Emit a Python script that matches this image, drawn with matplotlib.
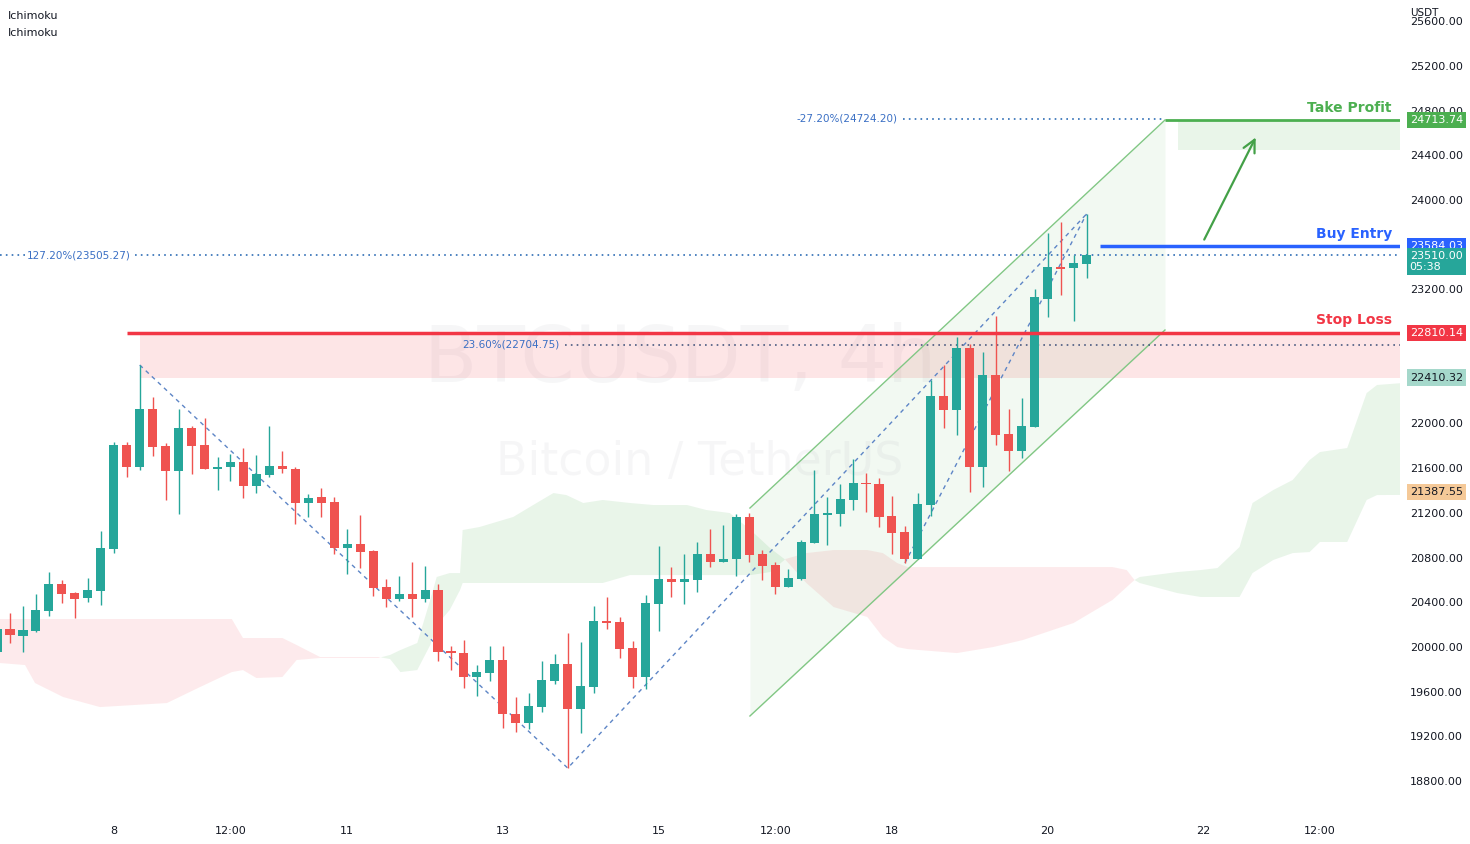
import numpy as np
import matplotlib.pyplot as plt

# ---- data (BTCUSDT 4h) ----
# x = candle number, 8 -> day 8 00:00, 6 candles per day
candle_idx = list(range(-1, 84))
opens = [19954, 20160, 20098, 20142, 20321, 20563, 20482, 20438, 20500, 20876,
         21807, 21610, 22129, 21798, 21574, 21959, 21807, 21592, 21610, 21655,
         21440, 21538, 21619, 21592, 21288, 21342, 21297, 20885, 20921, 20858,
         20536, 20429, 20473, 20429, 20509, 19963, 19945, 19731, 19766, 19883,
         19400, 19319, 19462, 19695, 19847, 19444, 19641, 20232, 20223, 19990,
         19731, 20384, 20608, 20581, 20599, 20831, 20760, 20787, 21163, 20831,
         20733, 20536, 20608, 20930, 21180, 21189, 21315, 21467, 21458, 21171,
         21028, 20787, 21270, 22245, 22120, 22675, 21610, 22433, 21905, 21753,
         21968, 23113, 23400, 23391, 23427]
highs = [20196, 20303, 20366, 20473, 20670, 20599, 20491, 20617, 21037, 21834,
         21834, 22523, 22236, 21825, 22129, 21977, 22048, 21699, 21726, 21780,
         21717, 21977, 21753, 21610, 21368, 21422, 21342, 21055, 21180, 20867,
         20608, 20635, 20760, 20724, 20563, 20008, 20062, 19838, 20008, 20008,
         19552, 19588, 19874, 19937, 20124, 20044, 20366, 20447, 20268, 20053,
         20465, 20903, 20715, 20831, 20939, 21055, 21091, 21189, 21198, 20867,
         20760, 20697, 20957, 21583, 21342, 21458, 21682, 21556, 21512, 21350,
         21082, 21377, 22389, 22523, 22773, 22711, 22639, 22961, 22129, 22227,
         23203, 23704, 23802, 23507, 23874]
lows = [19928, 20035, 19954, 20133, 20277, 20393, 20259, 20402, 20375, 20840,
        21520, 21583, 21708, 21315, 21189, 21547, 21592, 21404, 21485, 21333,
        21377, 21520, 21556, 21100, 21163, 21163, 20831, 20652, 20706, 20456,
        20357, 20411, 20268, 20402, 19874, 19793, 19632, 19561, 19695, 19274,
        19239, 19265, 19417, 19668, 18916, 19230, 19588, 20160, 19901, 19632,
        19623, 20142, 20447, 20384, 20491, 20715, 20760, 20635, 20760, 20599,
        20473, 20536, 20599, 20930, 20912, 21082, 21225, 21207, 21073, 20831,
        20751, 20787, 21171, 21959, 21896, 21386, 21431, 21807, 21574, 21691,
        21968, 22952, 23149, 22917, 23301]
closes = [20160, 20107, 20151, 20330, 20563, 20473, 20429, 20509, 20885, 21807,
          21610, 22129, 21789, 21574, 21959, 21798, 21592, 21610, 21655, 21440,
          21547, 21619, 21592, 21288, 21333, 21288, 20885, 20921, 20849, 20527,
          20429, 20473, 20429, 20509, 19954, 19945, 19731, 19775, 19883, 19400,
          19319, 19471, 19704, 19847, 19444, 19650, 20232, 20214, 19981, 19731,
          20393, 20608, 20581, 20608, 20831, 20760, 20787, 21163, 20822, 20724,
          20536, 20617, 20939, 21189, 21198, 21324, 21467, 21458, 21163, 21019,
          20787, 21279, 22245, 22120, 22675, 21610, 22433, 21896, 21753, 21977,
          23131, 23400, 23382, 23436, 23510]

# ichimoku cloud (displaced ahead), read at a few points
cloud_idx = [-0.77, 1.16, 1.93, 4.09, 6.94, 12.1, 14.65, 17.1, 17.96, 19.0,
             21.0, 22.1, 23.9, 28.4, 29.3, 30.1, 31.4, 32.4, 32.9, 33.9,
             34.7, 34.9, 36.2, 38.8, 40.6, 41.9, 42.9, 44.2, 45.7, 47.8,
             49.6, 52.2, 53.7, 55.5, 57.1, 58.6, 59.8, 61.4, 63.5, 66.1,
             67.3, 68.4, 69.2, 73.0, 75.8, 78.1, 82.0, 85.0, 86.1, 86.7,
             87.1, 90.0, 91.8, 93.1, 94.8, 95.8, 97.4, 98.9, 100.2, 101.0,
             103.1, 104.6, 105.4, 107.2]
span_a = [19856, 19838, 19677, 19552, 19462, 19498, 19641, 19775, 19793, 19722,
          19731, 19883, 19901, 19901, 19928, 19972, 20035, 20420, 20626, 20661,
          20661, 21046, 21073, 21163, 21288, 21377, 21359, 21288, 21315, 21288,
          21270, 21270, 21225, 21198, 21046, 20885, 20778, 20572, 20357, 20268,
          20089, 19999, 19981, 19945, 19999, 20062, 20214, 20420, 20536, 20599,
          20626, 20670, 20688, 20706, 20894, 21288, 21404, 21494, 21673, 21744,
          21780, 22272, 22344, 22360]
span_b = [20250, 20250, 20250, 20250, 20250, 20250, 20250, 20250, 20080, 20080,
          20080, 20017, 19910, 19910, 19892, 19775, 19793, 20017, 20196, 20330,
          20509, 20572, 20572, 20572, 20572, 20572, 20572, 20572, 20572, 20643,
          20643, 20643, 20643, 20643, 20643, 20670, 20787, 20840, 20867, 20867,
          20840, 20751, 20715, 20715, 20715, 20715, 20715, 20715, 20688, 20599,
          20572, 20482, 20447, 20447, 20447, 20661, 20778, 20840, 20849, 20939,
          20939, 21315, 21359, 21360]

# trade levels
stop_loss = 22810.14
stop_zone_low = 22406
buy_entry = 23584.03
take_profit = 24713.74
tp_zone_low = 24447
last_price = 23510.00
span_a_last = 22410.32
kijun_last = 21387.55

# fib drawing points (candle, price)
fib_a = (10, 22523)
fib_b = (43, 18916)
fib_c = (83, 23874)
fib_d = (69, 20751)
fib_levels = [("-27.20%(24724.20)", 24724.20),
              ("127.20%(23505.27)", 23505.27),
              ("23.60%(22704.75)", 22704.75)]

# parallel channel: start / end candle, upper and lower prices
chan_x = [57.05, 89.05]
chan_upper = [21243, 24715]
chan_lower = [19382, 22836]

# arrow to take profit
arrow_from = (91.98, 23623)
arrow_to = (96.14, 24581)

xtick_pos = [8, 17, 26, 38, 50, 59, 68, 80, 92, 101]
xtick_labels = ['8', '12:00', '11', '13', '15', '12:00', '18', '20', '22', '12:00']
ytick_vals = list(range(18800, 25601, 400))

UP = '#26a69a'
DOWN = '#ef5350'
X_MIN, X_MAX = -10 / 12.97, 1390 / 12.97

fig = plt.figure(figsize=(14.7, 8.44), dpi=100)
ax = fig.add_axes([0, 31 / 844, 1400 / 1470, 813 / 844])
ax.set_xlim(X_MIN, X_MAX)
ax.set_ylim(18514, 25789)

# watermark
ax.text(51.7, 22568, 'BTCUSDT, 4h', fontsize=56, color='#9598a1', alpha=0.08,
        ha='center', va='center', zorder=0.5)
ax.text(53.2, 21646, 'Bitcoin / TetherUS', fontsize=33, color='#9598a1', alpha=0.08,
        ha='center', va='center', zorder=0.5)

# cloud
ca = np.array(span_a)
cb = np.array(span_b)
ax.fill_between(cloud_idx, ca, cb, where=ca >= cb, interpolate=True,
                color='#4caf50', alpha=0.12, lw=0, zorder=1)
ax.fill_between(cloud_idx, ca, cb, where=ca <= cb, interpolate=True,
                color='#f23645', alpha=0.10, lw=0, zorder=1)

# zones
ax.fill_between([10, X_MAX], stop_zone_low, stop_loss, color='#f23645', alpha=0.13, lw=0, zorder=1.2)
ax.fill_between([90.05, X_MAX], tp_zone_low, take_profit, color='#4caf50', alpha=0.12, lw=0, zorder=1.2)

# channel
ax.fill_between(chan_x, chan_lower, chan_upper, color='#4caf50', alpha=0.07, lw=0, zorder=1.3)
ax.plot(chan_x, chan_upper, color='#81c784', lw=1, zorder=1.4)
ax.plot(chan_x, chan_lower, color='#81c784', lw=1, zorder=1.4)

# fib dashed legs
dash = dict(color='#5d85c6', lw=1, ls=(0, (3, 3)), zorder=2)
ax.plot([fib_a[0], fib_b[0], fib_c[0]], [fib_a[1], fib_b[1], fib_c[1]], **dash)
ax.plot([fib_d[0], fib_c[0]], [fib_d[1], fib_c[1]], **dash)

# fib level dotted lines + labels
dot = dict(lw=1.2, ls=(0, (1, 2.5)), zorder=2.5)
ax.plot([68.85, 89.05], [fib_levels[0][1]] * 2, color='#2f6db5', **dot)
ax.plot([X_MIN, 1.2], [fib_levels[1][1]] * 2, color='#2f6db5', **dot)
ax.plot([9.6, X_MAX], [fib_levels[1][1]] * 2, color='#2f6db5', **dot)
ax.plot([42.8, X_MAX], [fib_levels[2][1]] * 2, color='#4a5a80', **dot)
for (txt, lvl), xr in zip(fib_levels, [68.4, 9.33, 42.4]):
    ax.text(xr, lvl, txt, fontsize=7.5, color='#3a6fc4', ha='right', va='center', zorder=5)

# candles
for i, o, h, l, c in zip(candle_idx, opens, highs, lows, closes):
    col = UP if c >= o else DOWN
    ax.vlines(i, l, h, color=col, lw=1, zorder=3)
    ax.bar(i, c - o, bottom=o, width=0.7, color=col, lw=0, zorder=3.1)

# trade lines
ax.plot([9.02, X_MAX], [stop_loss] * 2, color='#f23645', lw=2.5, zorder=4, solid_capstyle='butt')
ax.plot([84.04, X_MAX], [buy_entry] * 2, color='#2962ff', lw=2.5, zorder=4, solid_capstyle='butt')
ax.plot([89.05, X_MAX], [take_profit] * 2, color='#4caf50', lw=2, zorder=4, solid_capstyle='butt')

for txt, lvl, col in [('Take Profit', take_profit, '#4caf50'),
                      ('Buy Entry', buy_entry, '#2962ff'),
                      ('Stop Loss', stop_loss, '#f23645')]:
    ax.annotate(txt, xy=(106.55, lvl), xytext=(0, 4), textcoords='offset points',
                ha='right', va='bottom', fontsize=10, fontweight='bold', color=col, zorder=5)

ax.annotate('', xy=arrow_to, xytext=arrow_from,
            arrowprops=dict(arrowstyle='->', color='#43a047', lw=1.6, mutation_scale=22), zorder=5)

# right price scale
ax.yaxis.tick_right()
ax.set_yticks(ytick_vals)
ax.set_yticklabels(['%.2f' % v for v in ytick_vals])
ax.tick_params(axis='y', length=0, pad=7, labelsize=8, labelcolor='#131722')
ax.set_xticks(xtick_pos)
ax.set_xticklabels(xtick_labels)
ax.tick_params(axis='x', length=0, pad=9, labelsize=8, labelcolor='#131722')
for s in ax.spines.values():
    s.set_visible(False)


def price_tag(price, text, face, color='white', dy=0):
    ax.annotate(text, xy=(1.0, price), xycoords=('axes fraction', 'data'),
                xytext=(7, dy), textcoords='offset points', ha='left', va='center',
                fontsize=8, color=color, zorder=6, annotation_clip=False,
                linespacing=1.05,
                bbox=dict(boxstyle='square,pad=0.28', facecolor=face, edgecolor='none'))


price_tag(take_profit, '%.2f' % take_profit, '#4caf50')
price_tag(buy_entry, '%.2f' % buy_entry, '#2962ff')
price_tag(last_price, '%.2f\n05:38' % last_price, '#26a69a', dy=-5)
price_tag(stop_loss, '%.2f' % stop_loss, '#f23645')
price_tag(span_a_last, '%.2f' % span_a_last, '#a5d8cb', color='#131722')
price_tag(kijun_last, '%.2f' % kijun_last, '#f5c998', color='#131722')

fig.text(1410 / 1470, 1 - 13 / 844, 'USDT', fontsize=7.5, color='#131722', va='center')
fig.text(8 / 1470, 1 - 16 / 844, 'Ichimoku', fontsize=8, color='#131722', va='center')
fig.text(8 / 1470, 1 - 33 / 844, 'Ichimoku', fontsize=8, color='#131722', va='center')

fig.savefig('out.png', dpi=100)
